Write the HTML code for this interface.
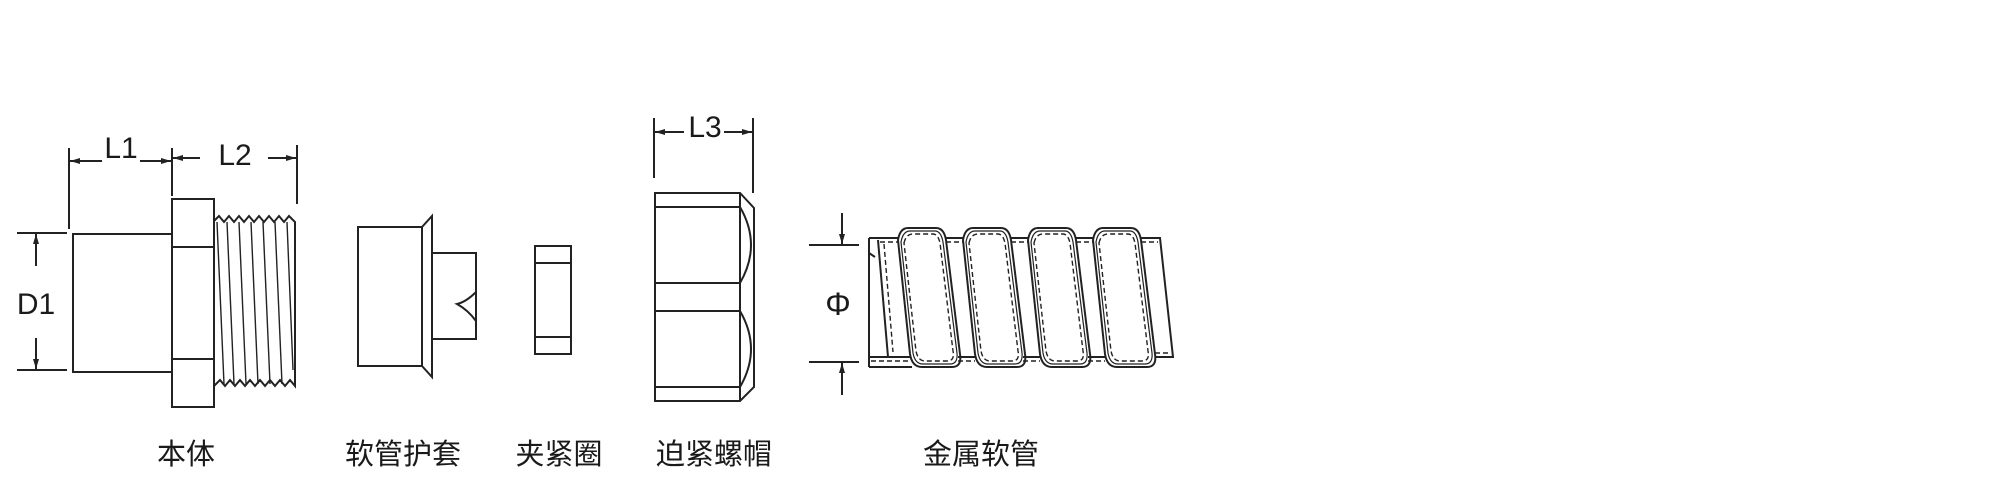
<!DOCTYPE html>
<html><head><meta charset="utf-8"><style>
html,body{margin:0;padding:0;background:#fff;}
svg{display:block}
text{font-family:"Liberation Sans","Noto Sans CJK SC",sans-serif;fill:#1a1a1a}
</style></head><body>
<svg width="1997" height="479" viewBox="0 0 1997 479" xmlns="http://www.w3.org/2000/svg">
<defs>
<marker id="a" viewBox="0 0 10 6" refX="10" refY="3" markerWidth="11" markerHeight="6" orient="auto" markerUnits="userSpaceOnUse"><path d="M0,0 L10,3 L0,6 Z" fill="#222"/></marker>
</defs>
<g stroke="#222" stroke-width="2" fill="none">
<line x1="69" y1="148" x2="69" y2="229"/>
<line x1="172" y1="148" x2="172" y2="196"/>
<line x1="297" y1="145" x2="297" y2="204"/>
<line x1="102" y1="161" x2="70" y2="161" marker-end="url(#a)"/>
<line x1="140" y1="161" x2="171" y2="161" marker-end="url(#a)"/>
<line x1="200" y1="158" x2="173" y2="158" marker-end="url(#a)"/>
<line x1="268" y1="158" x2="296" y2="158" marker-end="url(#a)"/>
<line x1="17" y1="233" x2="67" y2="233"/>
<line x1="17" y1="370" x2="67" y2="370"/>
<line x1="36" y1="266" x2="36" y2="234" marker-end="url(#a)"/>
<line x1="36" y1="338" x2="36" y2="369" marker-end="url(#a)"/>
<rect x="73" y="234" width="99" height="138"/>
<rect x="172" y="199" width="42" height="208"/>
<line x1="172" y1="247" x2="214" y2="247"/>
<line x1="172" y1="359" x2="214" y2="359"/>
<path d="M214,221 L219,216 L224,222 L229,216 L234,222 L239,216 L244,222 L249,216 L254,222 L259,216 L264,222 L269,216 L274,222 L279,216 L284,222 L289,216 L295,222 L295,386 L290,380 L285,386 L280,380 L275,386 L270,380 L265,386 L260,380 L255,386 L250,380 L245,386 L240,380 L235,386 L230,380 L225,386 L220,380 L214,386"/>
<g stroke-width="1.4">
<line x1="217" y1="222" x2="224" y2="384"/><line x1="227" y1="222" x2="234" y2="384"/>
<line x1="239" y1="222" x2="246" y2="384"/><line x1="251" y1="222" x2="258" y2="384"/>
<line x1="263" y1="222" x2="270" y2="384"/><line x1="275" y1="222" x2="282" y2="384"/>
<line x1="287" y1="222" x2="293" y2="370"/>
</g>
<rect x="358" y="227" width="64" height="139"/>
<path d="M422,227 L432,216 L432,377 L422,366"/>
<rect x="432" y="253" width="44" height="86"/>
<path d="M476,292 Q466,302 457,304 Q468,310 476,321"/>
<rect x="535" y="246" width="36" height="108"/>
<line x1="535" y1="263" x2="571" y2="263"/>
<line x1="535" y1="337" x2="571" y2="337"/>
<line x1="654" y1="118" x2="654" y2="178"/>
<line x1="753" y1="118" x2="753" y2="193"/>
<line x1="684" y1="132" x2="655" y2="132" marker-end="url(#a)"/>
<line x1="724" y1="132" x2="752" y2="132" marker-end="url(#a)"/>
<path d="M655,193 L740,193 L754,208 L754,387 L740,401 L655,401 Z"/>
<line x1="740" y1="193" x2="740" y2="401"/>
<line x1="655" y1="207" x2="740" y2="207"/>
<line x1="655" y1="283" x2="740" y2="283"/>
<line x1="655" y1="311" x2="740" y2="311"/>
<line x1="655" y1="387" x2="740" y2="387"/>
<path d="M740,207 Q762,245 740,283"/>
<path d="M740,311 Q762,349 740,387"/>
<line x1="809" y1="245" x2="859" y2="245"/>
<line x1="809" y1="362" x2="859" y2="362"/>
<line x1="842" y1="213" x2="842" y2="244" marker-end="url(#a)"/>
<line x1="842" y1="395" x2="842" y2="363" marker-end="url(#a)"/>
<path d="M869,238 L869,367"/>
<path d="M869,238 L898,238 M946,238 L963,238 M1011,238 L1028,238 M1076,238 L1093,238 M1141,238 L1160,238 L1173,357 L1155,357"/>
<path d="M869,367 L912,367 M869,357 L910,357 M958,357 L975,357 M1023,357 L1040,357 M1088,357 L1105,357"/>
<line x1="878" y1="240" x2="888" y2="357"/>
<line x1="869" y1="253" x2="875" y2="257"/>
</g>
<g stroke="#222" fill="none">
<g stroke-width="2">
<path d="M898,240 Q900,228 908,228 L936,228 Q944,228 946,240 L960,354 Q962,367 952,367 L922,367 Q912,367 910,354 Z"/>
<path d="M963,240 Q965,228 973,228 L1001,228 Q1009,228 1011,240 L1025,354 Q1027,367 1017,367 L987,367 Q977,367 975,354 Z"/>
<path d="M1028,240 Q1030,228 1038,228 L1066,228 Q1074,228 1076,240 L1090,354 Q1092,367 1082,367 L1052,367 Q1042,367 1040,354 Z"/>
<path d="M1093,240 Q1095,228 1103,228 L1131,228 Q1139,228 1141,240 L1155,354 Q1157,367 1147,367 L1117,367 Q1107,367 1105,354 Z"/>
</g>
<g stroke-width="1.2">
<path d="M901,242 Q903,231 910,231 L935,231 Q941,231 943,242 L957,353 Q958,364 950,364 L923,364 Q915,364 913,353 Z"/>
<path d="M966,242 Q968,231 975,231 L1000,231 Q1006,231 1008,242 L1022,353 Q1023,364 1015,364 L988,364 Q980,364 978,353 Z"/>
<path d="M1031,242 Q1033,231 1040,231 L1065,231 Q1071,231 1073,242 L1087,353 Q1088,364 1080,364 L1053,364 Q1045,364 1043,353 Z"/>
<path d="M1096,242 Q1098,231 1105,231 L1130,231 Q1136,231 1138,242 L1152,353 Q1153,364 1145,364 L1118,364 Q1110,364 1108,353 Z"/>
</g>
<g stroke-width="1.4" stroke-dasharray="5,3">
<path d="M904,243 Q906,234 913,234 L933,234 Q938,234 940,243 L953,351 Q955,361 947,361 L925,361 Q918,361 916,351 Z"/>
<path d="M969,243 Q971,234 978,234 L998,234 Q1003,234 1005,243 L1018,351 Q1020,361 1012,361 L990,361 Q983,361 981,351 Z"/>
<path d="M1034,243 Q1036,234 1043,234 L1063,234 Q1068,234 1070,243 L1083,351 Q1085,361 1077,361 L1055,361 Q1048,361 1046,351 Z"/>
<path d="M1099,243 Q1101,234 1108,234 L1128,234 Q1133,234 1135,243 L1148,351 Q1150,361 1142,361 L1120,361 Q1113,361 1111,351 Z"/>
<path d="M880,242 L898,242 M946,242 L963,242 M1011,242 L1028,242 M1076,242 L1093,242 M1141,242 L1158,242"/>
<path d="M871,361 L910,361 M958,361 L975,361 M1023,361 L1040,361 M1088,361 L1105,361 M1155,353 L1170,353"/>
<path d="M884,244 L893,352"/>
</g>
</g>
<text x="121" y="158" font-size="30" text-anchor="middle">L1</text>
<text x="235" y="165" font-size="30" text-anchor="middle">L2</text>
<text x="36" y="314" font-size="30" text-anchor="middle">D1</text>
<text x="705" y="137" font-size="30" text-anchor="middle">L3</text>
<text x="838" y="315" font-size="32" text-anchor="middle">Φ</text>
<g font-size="29" text-anchor="middle">
<text x="186" y="464">本体</text>
<text x="403" y="464">软管护套</text>
<text x="559" y="464">夹紧圈</text>
<text x="714" y="464">迫紧螺帽</text>
<text x="981" y="464">金属软管</text>
</g>
</svg>
</body></html>
